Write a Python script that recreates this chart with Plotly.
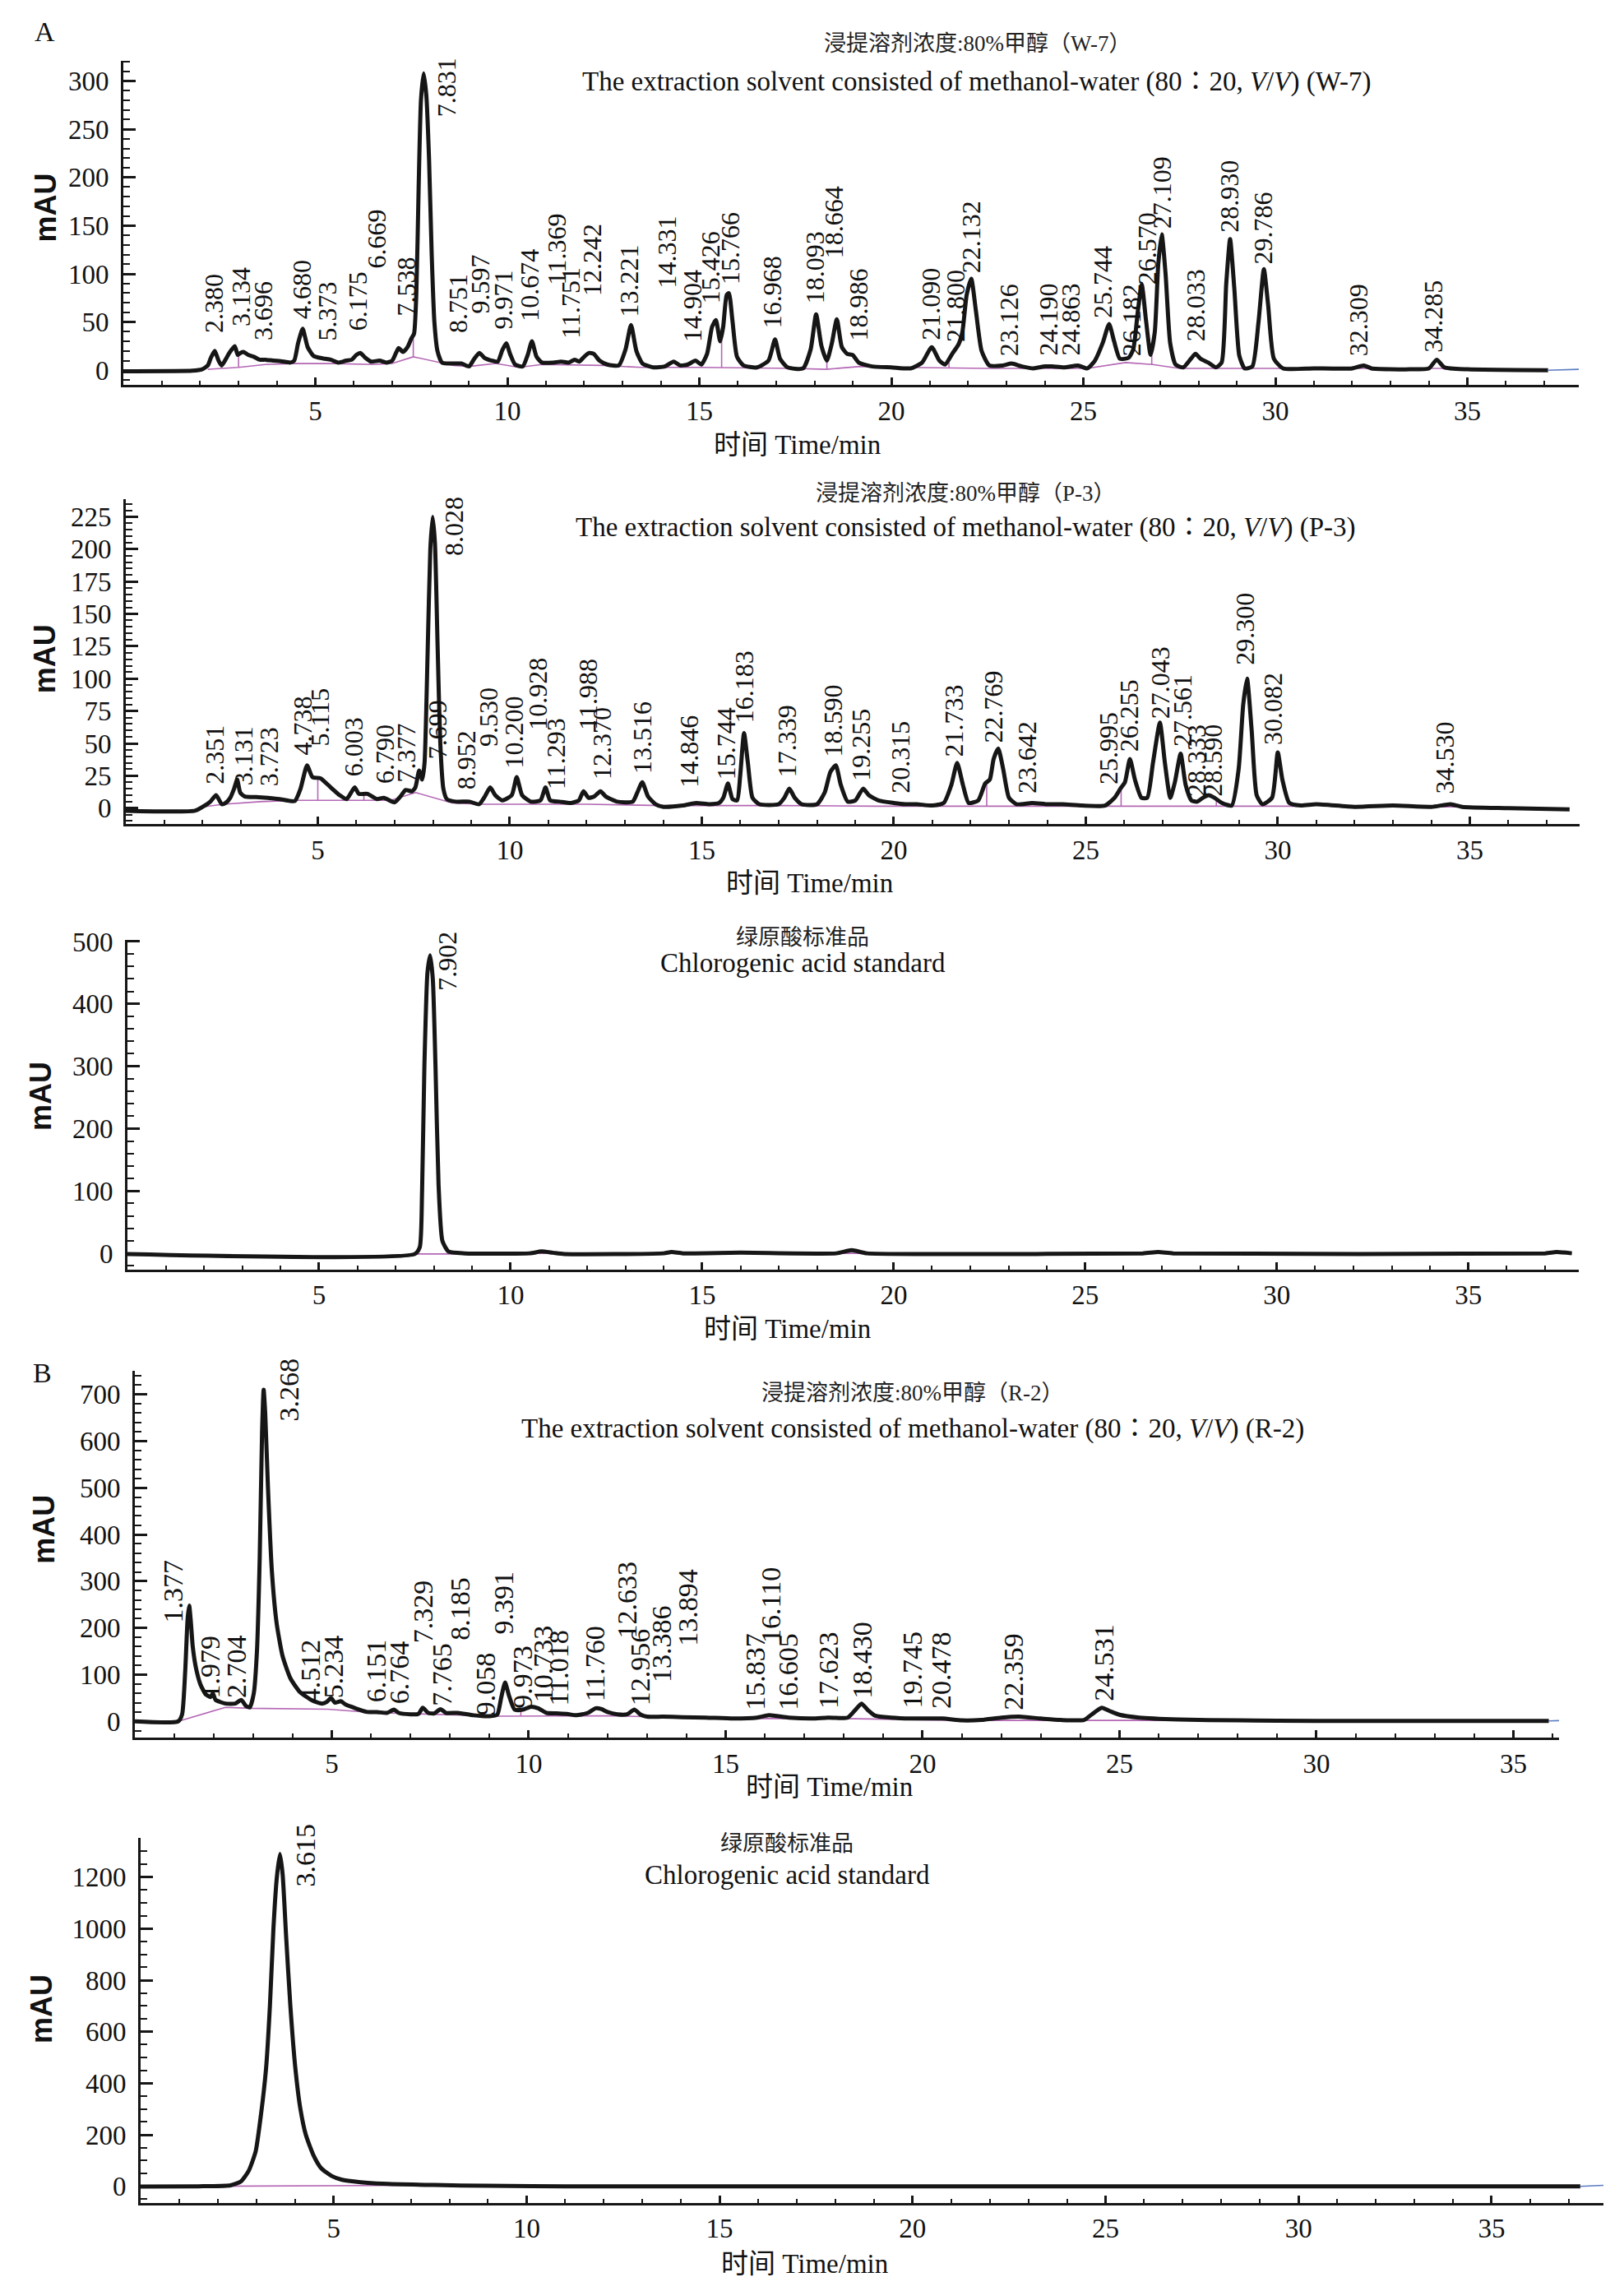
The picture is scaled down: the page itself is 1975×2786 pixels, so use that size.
import plotly.graph_objects as go

W, H = 1975, 2786

# ======================= DATA (time in min, signal in mAU) =======================
# ---- Panel A-1 : extract W-7 ----
w7_trace = [(0.0,-1),(1.8,-0.5),(2.05,1),(2.2,5),(2.28,13),(2.38,20),(2.48,10),(2.56,5),(2.66,11),
    (2.76,18),(2.9,25),(2.98,16),(3.05,18),(3.13,19),(3.25,16),(3.4,14),(3.55,11),(3.7,11),(3.9,10),
    (4.1,9.5),(4.35,8),(4.45,10),(4.55,28),(4.67,43),(4.8,24),(4.95,15),(5.1,13),(5.25,12),(5.4,11),
    (5.6,8),(5.8,10),(5.95,11),(6.07,16),(6.17,18),(6.3,13),(6.45,9),(6.67,10),(6.85,8),(7.0,10),
    (7.1,18),(7.17,23),(7.28,19),(7.4,24),(7.5,33),(7.57,38),(7.63,80),(7.69,190),(7.75,280),(7.82,308),
    (7.89,285),(7.96,220),(8.03,120),(8.1,50),(8.18,20),(8.3,8),(8.6,7),(8.8,7),(9.0,4),(9.14,12),
    (9.27,18),(9.4,13),(9.6,10),(9.75,9),(9.87,21),(9.97,28),(10.08,16),(10.2,6),(10.4,4),(10.53,16),
    (10.64,30),(10.76,14),(10.9,8),(11.2,8),(11.4,9),(11.6,8),(11.75,11),(11.87,9),(12.0,14),(12.13,18),
    (12.25,17),(12.4,10),(12.6,6),(12.9,5),(13.08,22),(13.22,47),(13.36,20),(13.52,7),(13.8,3),(14.1,4),
    (14.33,9),(14.5,5),(14.7,6),(14.9,10),(15.05,6),(15.2,17),(15.33,45),(15.43,52),(15.54,30),(15.62,45),
    (15.71,78),(15.77,80),(15.86,52),(15.98,14),(16.15,5),(16.5,3),(16.8,10),(16.97,32),(17.1,12),(17.3,3),
    (17.7,2),(17.9,22),(18.04,58),(18.18,25),(18.32,10),(18.45,28),(18.58,53),(18.71,24),(18.85,17),
    (18.99,16),(19.15,8),(19.5,4),(20.0,3),(20.5,2),(20.8,8),(21.05,24),(21.25,10),(21.4,6),(21.6,18),
    (21.75,27),(21.85,40),(21.96,78),(22.08,95),(22.2,62),(22.35,20),(22.55,5),(22.9,5),(23.13,7),(23.4,4),
    (23.7,2),(24.0,4),(24.19,4),(24.5,3),(24.86,5),(25.1,2),(25.3,10),(25.5,28),(25.67,48),(25.8,30),
    (25.95,12),(26.18,13),(26.3,22),(26.42,62),(26.52,89),(26.63,52),(26.75,16),(26.86,40),(26.95,110),
    (27.04,141),(27.14,100),(27.26,28),(27.4,6),(27.6,3),(27.8,12),(27.92,17),(28.05,12),(28.25,8),
    (28.45,3),(28.6,8),(28.72,90),(28.82,136),(28.93,85),(29.06,15),(29.2,2),(29.4,4),(29.56,50),
    (29.7,105),(29.81,68),(29.96,12),(30.2,2),(31.0,2),(32.0,2),(32.3,5),(32.5,2),(33.5,1),(34.0,2),
    (34.2,11),(34.4,3),(35.0,1),(37.1,0)]
w7_base = [(2.2,1),(3.0,3),(3.7,6),(4.4,7),(5.5,7),(6.5,6),(7.0,7),(7.55,14),(8.6,5),(9.0,4),(9.7,7),
    (10.3,3),(10.9,6),(12.5,5),(13.5,3),(15.0,3),(17.5,2),(18.3,1),(19.2,4),(20.3,3),(22.5,2),(25.1,2),
    (26.1,8),(26.8,6),(27.5,2),(30.5,2),None,(31.9,2),(32.6,2),None,(33.9,2),(34.6,2),None,
    (3.0,3),(3.0,17),None,(7.55,14),(7.55,34),None,(15.58,3),(15.58,32),None,(18.32,1.5),(18.32,10),None,
    (21.5,2.5),(21.5,14),None,(26.78,6),(26.78,17)]
w7_tail = [(37.1,0),(37.9,1)]
w7_labels = ["2.380","3.134","3.696","4.680","5.373","6.175","6.669","7.538","7.831","8.751","9.597",
    "9.971","10.674","11.369","11.751","12.242","13.221","14.331","14.904","15.426","15.766","16.968",
    "18.093","18.664","18.986","21.090","21.800","22.132","23.126","24.190","24.863","25.744","26.182",
    "26.570","27.109","28.033","28.930","29.786","32.309","34.285"]
w7_label_x = [2.36,3.05,3.64,4.66,5.32,6.12,6.6,7.36,8.42,8.7,9.3,9.9,10.58,11.28,11.66,12.2,13.16,14.15,
    14.83,15.28,15.8,16.9,18.0,18.52,19.15,21.02,21.68,22.08,23.05,24.08,24.66,25.5,26.24,26.66,27.05,
    27.92,28.8,29.68,32.15,34.12]
w7_label_y = [38,45,30,52,30,40,105,55,262,38,58,42,50,88,32,76,54,84,28,68,88,43,68,115,30,30,28,100,
    14,14,14,53,14,88,146,29,142,109,14,18]

# ---- Panel A-2 : extract P-3 ----
p3_trace = [(0.0,-2),(1.8,-2),(2.0,1),(2.2,5),(2.35,10),(2.5,3),(2.6,4),(2.72,8),(2.82,15),(2.9,22),
    (2.98,12),(3.1,9),(3.4,8.5),(3.7,8),(4.0,7),(4.4,5.5),(4.55,15),(4.72,33),(4.86,24),(5.07,23),(5.3,17),
    (5.57,10),(5.75,7),(5.96,16),(6.07,11),(6.29,11),(6.54,7),(6.72,8),(7.0,4.5),(7.15,9),(7.29,14),
    (7.45,13),(7.54,16),(7.64,29),(7.72,22),(7.78,35),(7.86,120),(7.93,200),(7.99,225),(8.05,205),
    (8.12,125),(8.19,50),(8.27,15),(8.36,7),(8.6,5),(8.95,5),(9.2,3),(9.35,9),(9.49,16),(9.62,10),(9.8,6),
    (10.05,10),(10.18,24),(10.32,10),(10.55,5),(10.8,6),(10.93,16),(11.05,6),(11.3,5),(11.6,4),(11.8,6),
    (11.92,13),(12.05,8),(12.2,9),(12.36,13),(12.5,9),(12.8,5),(13.2,5),(13.32,12),(13.45,20),(13.6,9),
    (13.8,3),(14.0,1),(14.5,2),(14.85,4),(15.2,3),(15.45,4),(15.56,8),(15.68,19),(15.8,7),(15.92,6),
    (16.0,25),(16.1,58),(16.2,35),(16.32,8),(16.5,3),(17.0,3),(17.15,8),(17.28,15),(17.42,8),(17.6,3),
    (18.0,3),(18.2,12),(18.35,28),(18.49,33),(18.62,18),(18.8,5),(19.0,6),(19.2,15),(19.35,10),(19.6,6),
    (20.0,4),(20.3,3),(20.6,3),(21.0,2),(21.3,4),(21.5,18),(21.65,35),(21.8,18),(21.95,4),(22.2,6),
    (22.38,19),(22.5,22),(22.6,38),(22.72,46),(22.85,30),(23.0,8),(23.2,3),(23.6,4),(24.0,3),(24.4,3),
    (24.9,2),(25.5,2),(25.75,8),(25.9,15),(26.02,20),(26.15,38),(26.28,22),(26.45,8),(26.6,8),(26.75,35),
    (26.93,66),(27.06,35),(27.2,8),(27.32,20),(27.47,42),(27.6,18),(27.75,6),(27.9,5),(28.05,8),(28.2,10),
    (28.35,8),(28.55,4),(28.8,2),(28.98,30),(29.1,80),(29.2,100),(29.32,60),(29.45,10),(29.6,3),(29.85,8),
    (30.0,43),(30.12,22),(30.3,4),(30.6,2),(31.0,3),(32.0,1),(33.0,2),(34.0,1),(34.5,3),(34.8,1),(36.0,0),
    (37.6,-1)]
p3_base = [(2.0,1),(2.55,3),(3.5,5),(4.5,6),(5.6,6),(6.9,6),(7.55,12),(8.5,4),(9.2,3),(12.0,3),(14.0,2),
    (17.0,2),(19.5,1.5),(22.0,1.5),(25.5,1.5),(30.5,1.5),None,(5.0,6),(5.0,23),None,(6.2,6),(6.2,11),None,
    (22.42,1.5),(22.42,19),None,(25.92,1.5),(25.92,15),None,(28.4,1.5),(28.4,8),None,(34.0,1),(35.0,1)]
p3_tail = []
p3_labels = ["2.351","3.131","3.723","4.738","5.115","6.003","6.790","7.377","7.699","8.028","8.952",
    "9.530","10.200","10.928","11.293","11.988","12.370","13.516","14.846","15.744","16.183","17.339",
    "18.590","19.255","20.315","21.733","22.769","23.642","25.995","26.255","27.043","27.561","28.333",
    "28.590","29.300","30.082","34.530"]
p3_label_x = [2.32,3.07,3.72,4.6,5.06,5.94,6.76,7.31,8.13,8.54,8.88,9.43,10.11,10.72,11.2,12.02,12.4,
    13.45,14.68,15.64,16.12,17.21,18.42,19.15,20.18,21.57,22.6,23.48,25.6,26.12,26.93,27.52,27.88,28.32,
    29.13,29.87,34.34]
p3_label_y = [18,17,16,40,47,24,18,19.5,37,194,13.5,47,30,59.5,13.5,59.5,21.5,26,15,21.5,65,23,39,20.5,
    11,39,50,11,18,42.7,68,47,8,8,110,48,10]

# ---- Panel A-3 : chlorogenic acid standard ----
stdA_trace = [(0.0,-1),(7.5,-1),(7.63,10),(7.69,100),(7.75,300),(7.83,450),(7.9,478),(7.97,440),
    (8.04,300),(8.12,110),(8.22,20),(8.38,3),(8.8,0),(10.5,0),(10.8,3),(11.1,1),(11.4,-1),(14.0,0),
    (14.2,2),(14.5,0),(16.0,1),(18.5,0),(18.9,5),(19.3,0),(21.0,-1),(26.5,0),(26.9,2),(27.3,0),
    (37.0,0),(37.3,2),(37.7,0)]
stdA_base = [(7.5,-1),(8.9,-1),None,(10.4,0),(11.5,0),None,(13.9,0),(14.8,0),None,(15.8,0),(16.4,0),
    None,(17.6,0),(19.5,0),None,(26.3,0),(27.1,0),None,(36.4,0),(37.3,0)]
stdA_tail = []
stdA_labels = ["7.902"]
stdA_label_x = [8.35]
stdA_label_y = [420]

# ---- Panel B-1 : extract R-2 ----
r2_trace = [(0.0,0),(1.1,0),(1.2,15),(1.28,110),(1.34,220),(1.38,248),(1.42,215),(1.47,160),(1.55,115),
    (1.67,78),(1.8,58),(1.92,52),(1.98,60),(2.05,46),(2.3,38),(2.55,38),(2.7,46),(2.82,33),(2.92,30),
    (3.02,60),(3.1,150),(3.17,350),(3.23,620),(3.27,710),(3.31,660),(3.38,500),(3.48,320),(3.6,210),
    (3.75,140),(3.95,92),(4.2,62),(4.5,45),(4.75,38),(4.88,42),(4.98,50),(5.08,40),(5.23,43),(5.35,36),
    (5.6,28),(5.9,20),(6.15,20),(6.4,18),(6.58,25),(6.7,18),(7.0,15),(7.2,16),(7.31,29),(7.45,18),
    (7.6,17),(7.76,26),(7.9,18),(8.2,18),(8.6,13),(9.0,11),(9.2,14),(9.3,50),(9.4,83),(9.5,55),(9.64,25),
    (9.85,25),(10.04,31),(10.24,28),(10.45,18),(10.7,17),(10.97,16),(11.2,13),(11.5,18),(11.7,28),
    (11.85,26),(12.0,20),(12.25,15),(12.5,15),(12.68,25),(12.85,14),(13.0,10),(13.4,10),(13.9,9),(14.5,8),
    (15.2,6),(15.8,8),(16.1,13),(16.6,8),(17.2,6),(17.6,8),(18.1,8),(18.3,25),(18.45,38),(18.6,25),
    (18.8,12),(19.2,8),(19.7,6),(20.5,6),(21.0,2),(21.5,3),(22.0,8),(22.45,10),(23.0,6),(23.5,3),(24.1,3),
    (24.3,15),(24.55,29),(24.75,22),(25.0,14),(25.5,8),(26.5,4),(28.0,2),(30.0,1),(32.0,1),(35.9,1)]
r2_base = [(1.1,0),(2.3,30),(2.9,28),(4.9,26),(6.0,19),(9.2,11),(12.0,12),(15.0,6),(18.0,6),(21.0,2),
    (26.0,2),(35.9,1),None,(9.8,11.5),(9.8,25),None,(12.3,11.5),(12.3,15)]
r2_tail = [(35.9,1),(36.16,1.5)]
r2_labels = ["1.377","1.979","2.704","3.268","4.512","5.234","6.151","6.764","7.329","7.765","8.185",
    "9.058","9.391","9.973","10.733","11.018","11.760","12.633","12.956","13.386","13.894","15.837",
    "16.110","16.605","17.623","18.430","19.745","20.478","22.359","24.531"]
r2_label_x = [0.98,1.92,2.58,3.91,4.45,5.05,6.12,6.71,7.31,7.78,8.24,8.9,9.37,9.84,10.37,10.77,11.7,12.5,
    12.83,13.37,14.04,15.76,16.15,16.6,17.6,18.45,19.74,20.46,22.32,24.61]
r2_label_y = [210,48,48,640,38,48,38,35,165,31,172,10,185,25,38,31,41,175,31,82,160,22,165,22,25,46,25,
    25,22,41]

# ---- Panel B-2 : chlorogenic acid standard ----
stdB_trace = [(0.0,-1),(1.5,0),(2.33,4),(2.6,19),(2.8,60),(2.98,135),(3.12,280),(3.25,457),(3.35,700),
    (3.44,997),(3.53,1200),(3.61,1290),(3.68,1210),(3.77,970),(3.88,700),(4.01,457),(4.14,300),(4.28,200),
    (4.48,120),(4.68,70),(4.95,40),(5.2,26),(5.7,16),(6.28,10),(7.6,5),(9.0,2),(11.0,0),(37.3,0)]
stdB_base = [(1.2,0),(7.8,4)]
stdB_tail = [(37.3,0),(37.9,4)]
stdB_labels = ["3.615"]
stdB_label_x = [4.28]
stdB_label_y = [1160]

# ---- texts ----
title_cn = ["浸提溶剂浓度:80%甲醇（W-7）", "浸提溶剂浓度:80%甲醇（P-3）", "绿原酸标准品",
            "浸提溶剂浓度:80%甲醇（R-2）", "绿原酸标准品"]
title_en = ["The extraction solvent consisted of methanol-water (80∶20, <i>V</i>/<i>V</i>) (W-7)",
            "The extraction solvent consisted of methanol-water (80∶20, <i>V</i>/<i>V</i>) (P-3)",
            "Chlorogenic acid standard",
            "The extraction solvent consisted of methanol-water (80∶20, <i>V</i>/<i>V</i>) (R-2)",
            "Chlorogenic acid standard"]
x_title = "时间 Time/min"
y_title = "mAU"
x_tick_vals = [5, 10, 15, 20, 25, 30, 35]

# ======================= LAYOUT (pixel geometry) =======================
panels = [
    dict(tr=w7_trace, bs=w7_base, tl=w7_tail, lt=w7_labels, lx=w7_label_x, ly=w7_label_y,
         xpx=(150, 1920), xmax=37.9, ypx=(58, 455), yr=(-15.3, 321.2), dt=50, mdt=10, lf=32,
         tcx=1188, tcn=37, ten=84, xtx=969, xty=528, ytx=56, yty=238),
    dict(tr=p3_trace, bs=p3_base, tl=p3_tail, lt=p3_labels, lx=p3_label_x, ly=p3_label_y,
         xpx=(153, 1921), xmax=37.86, ypx=(595, 992), yr=(-12.2, 238.4), dt=25, mdt=5, lf=32,
         tcx=1174, tcn=588, ten=629, xtx=984, xty=1064, ytx=54, yty=790),
    dict(tr=stdA_trace, bs=stdA_base, tl=stdA_tail, lt=stdA_labels, lx=stdA_label_x, ly=stdA_label_y,
         xpx=(155, 1920), xmax=37.88, ypx=(1134, 1537), yr=(-25.7, 502.5), dt=100, mdt=20, lf=32,
         tcx=976, tcn=1131, ten=1162, xtx=957, xty=1610, ytx=50, yty=1325),
    dict(tr=r2_trace, bs=r2_base, tl=r2_tail, lt=r2_labels, lx=r2_label_x, ly=r2_label_y,
         xpx=(164, 1896), xmax=36.16, ypx=(1661, 2110), yr=(-35.0, 750.8), dt=100, mdt=20, lf=34,
         tcx=1110, tcn=1688, ten=1732, xtx=1008, xty=2170, ytx=54, yty=1855),
    dict(tr=stdB_trace, bs=stdB_base, tl=stdB_tail, lt=stdB_labels, lx=stdB_label_x, ly=stdB_label_y,
         xpx=(171, 1950), xmax=37.9, ypx=(2233, 2679), yr=(-63.7, 1351), dt=200, mdt=50, lf=34,
         tcx=957, tcn=2240, ten=2278, xtx=978, xty=2754, ytx=50, yty=2442),
]
letters = [("A", 54, 23), ("B", 51, 1664)]

INK = "#161616"
SERIF = "Liberation Serif, Noto Sans CJK SC"

def split(points):
    xs = [p[0] if p is not None else None for p in points]
    ys = [p[1] if p is not None else None for p in points]
    return xs, ys

fig = go.Figure()
layout = dict(width=W, height=H, paper_bgcolor="white", plot_bgcolor="white",
              margin=dict(l=0, r=0, t=0, b=0), showlegend=False)
annotations = []

def px(xp):
    return xp / W

def py(yp):
    return 1 - yp / H

for i, p in enumerate(panels):
    n = "" if i == 0 else str(i + 1)
    xa, ya = "x" + n, "y" + n
    bx, by = split(p["bs"])
    fig.add_trace(go.Scatter(x=bx, y=by, mode="lines", xaxis=xa, yaxis=ya, hoverinfo="skip",
                             line=dict(color="#b467b4", width=1.6), connectgaps=False))
    tx, ty = split(p["tr"])
    fig.add_trace(go.Scatter(x=tx, y=ty, mode="lines", xaxis=xa, yaxis=ya, hoverinfo="skip",
                             line=dict(color=INK, width=5, shape="spline", smoothing=0.55)))
    if p["tl"]:
        lx_, ly_ = split(p["tl"])
        fig.add_trace(go.Scatter(x=lx_, y=ly_, mode="lines", xaxis=xa, yaxis=ya, hoverinfo="skip",
                                 line=dict(color="#5a7cc4", width=1.6)))
    layout["xaxis" + n] = dict(
        domain=[px(p["xpx"][0]), px(p["xpx"][1])], range=[0, p["xmax"]], anchor=ya,
        showline=True, linecolor=INK, linewidth=3, showgrid=False, zeroline=False,
        tickmode="array", tickvals=x_tick_vals, ticks="inside", ticklen=9, tickwidth=2.5,
        tickcolor=INK, ticklabelstandoff=0,
        tickfont=dict(family=SERIF, size=33, color="#111111"),
        minor=dict(tickmode="array", tickvals=list(range(1, int(p["xmax"]) + 1)),
                   ticks="inside", ticklen=5, tickwidth=2, tickcolor=INK),
        fixedrange=True)
    layout["yaxis" + n] = dict(
        domain=[py(p["ypx"][1]), py(p["ypx"][0])], range=list(p["yr"]), anchor=xa,
        showline=True, linecolor=INK, linewidth=3, showgrid=False, zeroline=False,
        tickmode="linear", tick0=0, dtick=p["dt"], ticks="inside", ticklen=15, tickwidth=2.5,
        tickcolor=INK, ticklabelstandoff=8,
        tickfont=dict(family=SERIF, size=33, color="#111111"),
        minor=dict(tick0=0, dtick=p["mdt"], ticks="inside", ticklen=8, tickwidth=2, tickcolor=INK),
        fixedrange=True)
    for t, x, y in zip(p["lt"], p["lx"], p["ly"]):
        annotations.append(dict(text=t, x=x, y=y, xref=xa, yref=ya, textangle=-90,
                                xanchor="center", yanchor="bottom", showarrow=False, borderpad=0,
                                font=dict(family="Liberation Serif", size=p["lf"], color="#111111")))
    annotations.append(dict(text=title_cn[i], x=px(p["tcx"]), y=py(p["tcn"]), xref="paper", yref="paper",
                            xanchor="center", yanchor="middle", showarrow=False,
                            font=dict(family=SERIF, size=27, color="#222222")))
    annotations.append(dict(text=title_en[i], x=px(p["tcx"]), y=py(p["ten"]), xref="paper", yref="paper",
                            xanchor="center", yanchor="middle", showarrow=False,
                            font=dict(family=SERIF, size=33, color="#111111")))
    annotations.append(dict(text=x_title, x=px(p["xtx"]), y=py(p["xty"]), xref="paper", yref="paper",
                            xanchor="center", yanchor="middle", showarrow=False,
                            font=dict(family=SERIF, size=33, color="#111111")))
    annotations.append(dict(text="<b>" + y_title + "</b>", x=px(p["ytx"]), y=py(p["yty"]), xref="paper",
                            yref="paper", xanchor="center", yanchor="middle", textangle=-90,
                            showarrow=False, font=dict(family="Liberation Sans", size=36, color="#111111")))

for letter, lxp, lyp in letters:
    annotations.append(dict(text=letter, x=px(lxp), y=py(lyp), xref="paper", yref="paper",
                            xanchor="center", yanchor="middle", showarrow=False,
                            font=dict(family="Liberation Serif", size=34, color="#111111")))

layout["annotations"] = annotations
fig.update_layout(**layout)
fig.write_html("out.html", config={"displayModeBar": False},
               post_script="document.body.style.margin='0px';document.body.style.padding='0px';")
